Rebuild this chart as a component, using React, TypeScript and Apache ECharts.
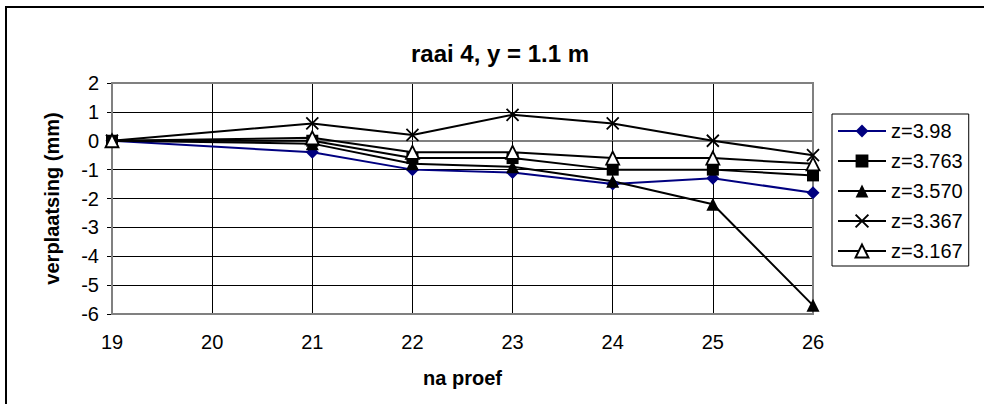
import React, { useEffect, useRef } from "react";
import * as echarts from "echarts";

const xValues = [19, 21, 22, 23, 24, 25, 26];
const seriesNames = ["z=3.98", "z=3.763", "z=3.570", "z=3.367", "z=3.167"];
const s398 = [0, -0.4, -1.0, -1.1, -1.5, -1.3, -1.8];
const s3763 = [0, 0.0, -0.6, -0.6, -1.0, -1.0, -1.2];
const s3570 = [0, -0.1, -0.8, -0.9, -1.4, -2.2, -5.7];
const s3367 = [0, 0.6, 0.2, 0.9, 0.6, 0.0, -0.5];
const s3167 = [0, 0.1, -0.4, -0.4, -0.6, -0.6, -0.8];

const FONT = "'Liberation Sans', Arial, sans-serif";
const CROSS = "path://M0,0 L10,10 M10,0 L0,10";

export default function App() {
  const ref = useRef<HTMLDivElement>(null);
  useEffect(() => {
    document.body.style.margin = "0";
    const chart = echarts.init(ref.current!, null, { renderer: "svg" });
    const pairs = (ys: number[]) => xValues.map((x, i) => [x, ys[i]]);
    const base = (name: string, ys: number[], color: string, symbol: string, size: number) => ({
      name,
      type: "line",
      data: pairs(ys),
      symbol,
      symbolSize: size,
      lineStyle: { color, width: 2 },
      itemStyle: { color },
      emphasis: { disabled: true },
    });
    chart.setOption({
      animation: false,
      backgroundColor: "#ffffff",
      textStyle: { fontFamily: FONT, color: "#000" },
      title: {
        text: "raai 4, y = 1.1 m",
        left: 495,
        top: 36,
        textAlign: "center",
        textStyle: { fontFamily: FONT, fontSize: 24, fontWeight: "bold", color: "#000" },
      },
      graphic: [
        {
          type: "rect",
          shape: { x: 6, y: 7, width: 1000, height: 420 },
          style: { fill: "none", stroke: "#000", lineWidth: 2 },
          silent: true,
          z: -10,
        },
        {
          type: "rect",
          shape: { x: 112, y: 83, width: 701, height: 231 },
          style: { fill: "none", stroke: "#808080", lineWidth: 2 },
          silent: true,
          z: 1,
        },
      ],
      legend: {
        orient: "vertical",
        left: 832,
        top: 114,
        padding: [7, 6, 5, 5],
        itemGap: 10,
        itemWidth: 48,
        itemHeight: 16,
        borderColor: "#000",
        borderWidth: 1,
        backgroundColor: "#fff",
        textStyle: { fontFamily: FONT, fontSize: 20, color: "#000" },
        data: seriesNames,
      },
      grid: { left: 112, top: 83, width: 701, height: 231 },
      xAxis: {
        type: "value",
        min: 19,
        max: 26,
        interval: 1,
        name: "na proef",
        nameLocation: "middle",
        nameGap: 54,
        nameTextStyle: { fontFamily: FONT, fontSize: 20, fontWeight: "bold", color: "#000" },
        axisLine: { show: true, lineStyle: { color: "#808080", width: 2 } },
        axisTick: { show: true, inside: false, length: 5, lineStyle: { color: "#000" } },
        axisLabel: { fontFamily: FONT, fontSize: 20, color: "#000", margin: 18 },
        splitLine: { show: true, lineStyle: { color: "#000", width: 1 } },
      },
      yAxis: {
        type: "value",
        min: -6,
        max: 2,
        interval: 1,
        name: "verplaatsing (mm)",
        nameLocation: "middle",
        nameRotate: 90,
        nameGap: 50,
        nameTextStyle: { fontFamily: FONT, fontSize: 20, fontWeight: "bold", color: "#000" },
        axisLine: { show: true, lineStyle: { color: "#808080", width: 2 } },
        axisTick: { show: true, inside: false, length: 5, lineStyle: { color: "#000" } },
        axisLabel: { fontFamily: FONT, fontSize: 20, color: "#000", margin: 13 },
        splitLine: { show: true, lineStyle: { color: "#000", width: 1 } },
      },
      series: [
        base(seriesNames[0], s398, "#000080", "diamond", 13),
        base(seriesNames[1], s3763, "#000", "rect", 12),
        base(seriesNames[2], s3570, "#000", "triangle", 13),
        {
          ...base(seriesNames[3], s3367, "#000", CROSS, 12),
          itemStyle: { color: "none", borderColor: "#000", borderWidth: 1.8 },
        },
        {
          ...base(seriesNames[4], s3167, "#000", "triangle", 13),
          itemStyle: { color: "#fff", borderColor: "#000", borderWidth: 1.8 },
        },
      ],
    });
    return () => chart.dispose();
  }, []);
  return <div ref={ref} style={{ width: 984, height: 404 }} />;
}
